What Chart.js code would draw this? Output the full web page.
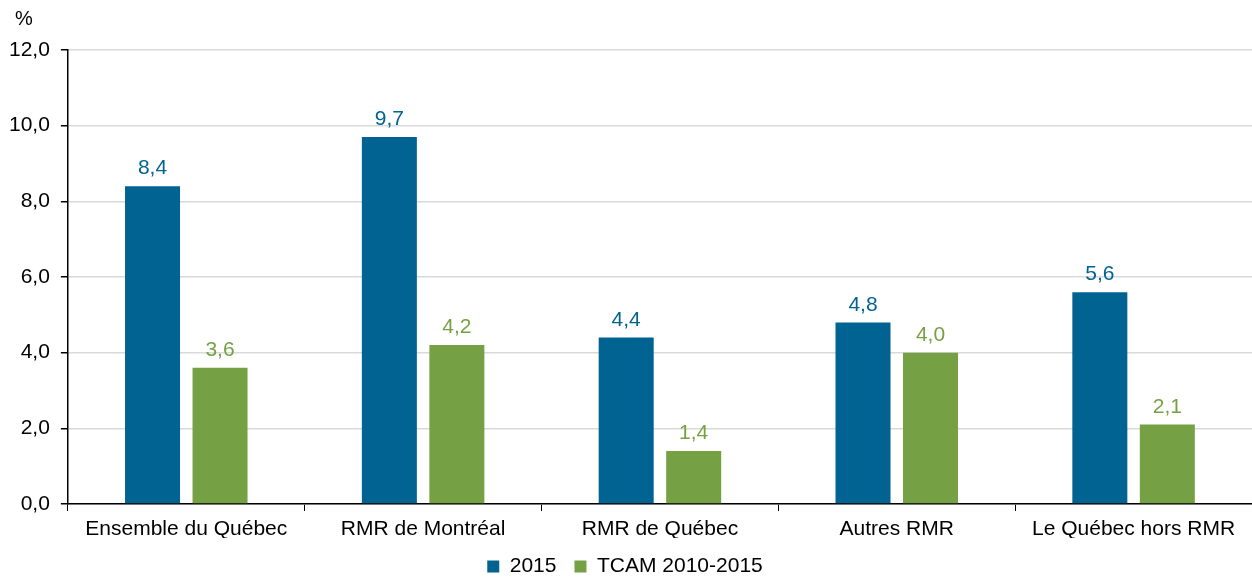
<!DOCTYPE html>
<html>
<head>
<meta charset="utf-8">
<script src="https://cdn.jsdelivr.net/npm/chart.js@4/dist/chart.umd.min.js"></script>
<style>
  body { margin: 0; background: #fff; }
  #wrap { width: 1252px; height: 578px; position: relative; }
</style>
</head>
<body>
<div id="wrap"><canvas id="chart"></canvas></div>
<script>
const categories = ["Ensemble du Québec", "RMR de Montréal", "RMR de Québec", "Autres RMR", "Le Québec hors RMR"];
const values2015 = [8.4, 9.7, 4.4, 4.8, 5.6];
const valuesTcam = [3.6, 4.2, 1.4, 4.0, 2.1];
const seriesNames = ["2015", "TCAM 2010-2015"];
const yTicks = [0, 2, 4, 6, 8, 10, 12];
const unitLabel = "%";

const BLUE = "#006391";
const GREEN = "#76a044";
const FONT = "'Liberation Sans', Arial, sans-serif";
const SIZE = 21;

const fmt = v => v.toFixed(1).replace(".", ",");

// étiquettes de valeurs au-dessus des barres + unité en haut de l'axe
const valueLabels = {
    id: "valueLabels",
    afterDatasetsDraw(chart) {
        const ctx = chart.ctx;
        ctx.save();
        ctx.font = SIZE + "px " + FONT;
        ctx.textAlign = "center";
        ctx.textBaseline = "bottom";
        chart.data.datasets.forEach((ds, i) => {
            ctx.fillStyle = ds.backgroundColor;
            chart.getDatasetMeta(i).data.forEach((bar, j) => {
                ctx.fillText(fmt(ds.data[j]), bar.x, bar.y - 7);
            });
        });
        // unité
        ctx.font = "20px " + FONT;
        ctx.fillStyle = "#000";
        ctx.textAlign = "left";
        ctx.textBaseline = "middle";
        ctx.fillText(unitLabel, 15, chart.chartArea.top - 31);
        ctx.restore();
    }
};

new Chart(document.getElementById("chart"), {
    type: "bar",
    data: {
        labels: categories,
        datasets: [
            { label: seriesNames[0], data: values2015, backgroundColor: BLUE },
            { label: seriesNames[1], data: valuesTcam, backgroundColor: GREEN }
        ]
    },
    options: {
        responsive: true,
        maintainAspectRatio: false,
        animation: false,
        categoryPercentage: 0.57,
        barPercentage: 0.815,
        layout: { padding: { left: -2, right: 0, top: 50, bottom: -9 } },
        plugins: {
            legend: {
                position: "bottom",
                labels: {
                    color: "#000",
                    font: { family: FONT, size: SIZE },
                    boxWidth: 12,
                    boxHeight: 12,
                    padding: 18
                }
            },
            tooltip: { enabled: false }
        },
        scales: {
            x: {
                afterFit: axis => { axis.height = 34; },
                grid: {
                    offset: true,
                    drawOnChartArea: false,
                    tickColor: "#000",
                    tickLength: 7
                },
                border: { color: "#000", width: 1.5 },
                ticks: {
                    color: "#000",
                    font: { family: FONT, size: SIZE },
                    padding: 6,
                    maxRotation: 0
                }
            },
            y: {
                min: 0,
                max: 12,
                afterBuildTicks: axis => { axis.ticks = yTicks.map(v => ({ value: v })); },
                grid: {
                    color: "#d9d9d9",
                    lineWidth: 1.5,
                    tickColor: "#000",
                    tickLength: 7
                },
                border: { color: "#000", width: 1.5 },
                ticks: {
                    color: "#000",
                    font: { family: FONT, size: SIZE },
                    padding: 11,
                    callback: v => fmt(v)
                }
            }
        }
    },
    plugins: [valueLabels]
});
</script>
</body>
</html>
